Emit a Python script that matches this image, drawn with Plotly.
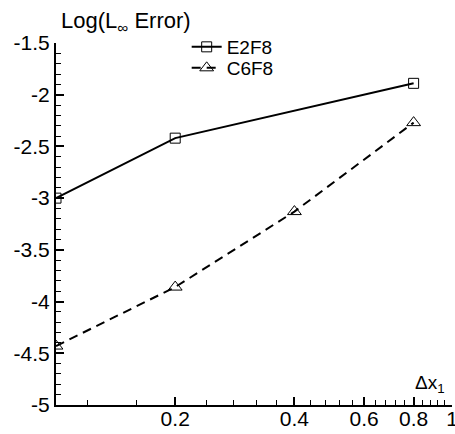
import plotly.graph_objects as go

# Data
e2f8_x = [0.1, 0.2, 0.8]
e2f8_y = [-3.0, -2.42, -1.89]
c6f8_x = [0.1, 0.2, 0.4, 0.8]
c6f8_y = [-4.43, -3.86, -3.13, -2.27]

x_tickvals = [0.2, 0.4, 0.6, 0.8, 1]
x_ticktext = ["0.2", "0.4", "0.6", "0.8", "1"]
x_minor = [0.12, 0.16, 0.24, 0.28, 0.32, 0.36, 0.44, 0.48, 0.52, 0.56,
           0.64, 0.68, 0.72, 0.76, 0.84, 0.88, 0.92, 0.96]
y_tickvals = [-5, -4.5, -4, -3.5, -3, -2.5, -2, -1.5]
y_ticktext = ["-5", "-4.5", "-4", "-3.5", "-3", "-2.5", "-2", "-1.5"]

FONT = "Liberation Sans, Arial, sans-serif"

fig = go.Figure()
fig.add_trace(go.Scatter(
    x=e2f8_x, y=e2f8_y, name="E2F8", mode="lines+markers", legend="legend",
    line=dict(color="black", width=2),
    marker=dict(symbol="square-open", size=10, color="black", line=dict(width=1)),
))
fig.add_trace(go.Scatter(
    x=c6f8_x, y=c6f8_y, name="C6F8", mode="lines+markers", legend="legend2",
    line=dict(color="black", width=2, dash="9px,6px"),
    marker=dict(symbol="triangle-up-open", size=12, color="black", line=dict(width=1)),
))

leg_common = dict(xanchor="left", yanchor="middle", bgcolor="rgba(0,0,0,0)",
                  font=dict(size=19), itemwidth=30, borderwidth=0)

fig.update_layout(
    width=455, height=434,
    margin=dict(l=56, r=3, t=43, b=29, autoexpand=False),
    paper_bgcolor="white", plot_bgcolor="white",
    font=dict(family=FONT, size=21, color="black"),
    showlegend=True,
    legend=dict(x=0.33, y=0.989, **leg_common),
    legend2=dict(x=0.33, y=0.931, **leg_common),
    xaxis=dict(
        type="log", range=[-1, 0], automargin=False,
        showline=True, linecolor="black", linewidth=2,
        showgrid=False, zeroline=False,
        ticks="inside", ticklen=8, tickwidth=1.5, tickcolor="black",
        tickmode="array", tickvals=x_tickvals, ticktext=x_ticktext,
        tickfont=dict(size=21), ticklabeloverflow="allow",
        ticklabelstandoff=-6,
        minor=dict(tickmode="array", tickvals=x_minor, ticks="inside",
                   ticklen=5, tickwidth=1, tickcolor="black", showgrid=False),
    ),
    yaxis=dict(
        range=[-5, -1.5], automargin=False,
        showline=True, linecolor="black", linewidth=2,
        showgrid=False, zeroline=False,
        ticks="inside", ticklen=8, tickwidth=1.5, tickcolor="black",
        tickmode="array", tickvals=y_tickvals, ticktext=y_ticktext,
        tickfont=dict(size=21), ticklabeloverflow="allow",
        minor=dict(dtick=0.1, ticks="inside", ticklen=5, tickwidth=1,
                   tickcolor="black", showgrid=False),
    ),
    annotations=[
        dict(text="Log(L<sub>∞</sub> Error)", xref="paper", yref="paper",
             x=0.0076, y=1.058, xanchor="left", yanchor="middle",
             showarrow=False, font=dict(size=22)),
        dict(text="Δx<sub>1</sub>", xref="paper", yref="paper",
             x=0.945, y=0.057, xanchor="center", yanchor="middle",
             showarrow=False, font=dict(size=19, color="black")),
    ],
)

fig.write_html("out.html", config={"displayModeBar": False},
               post_script="document.body.style.margin='0';")
